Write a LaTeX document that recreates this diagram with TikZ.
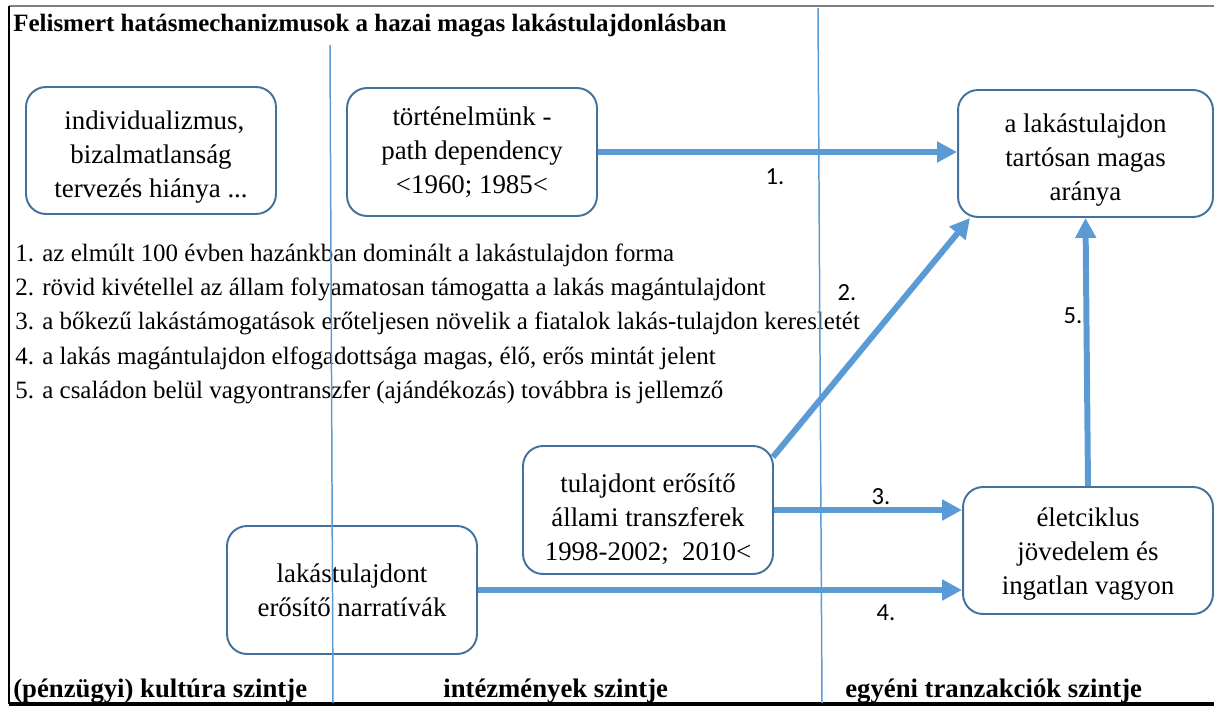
\documentclass[tikz,border=0pt]{standalone}
\usepackage{fontspec}
\setmainfont{Liberation Serif}
\newfontfamily\numfont{Carlito}
\usetikzlibrary{arrows.meta,calc}

\definecolor{boxblue}{HTML}{41719C}
\definecolor{flowblue}{HTML}{5B9BD5}
\definecolor{framegray}{HTML}{7F7F7F}

\def \boxText {\fontsize{15.3}{19.3}\selectfont}
\def \listText {\fontsize{14.2}{16}\selectfont}
\def \headText {\bfseries\fontsize{14.2}{16}\selectfont}
\def \levelText {\bfseries\fontsize{15.2}{17}\selectfont}
% strut that pushes box text a little down
\def \textdrop #1{\rule{0pt}{#1}}

\tikzset{
    box/.style={draw=boxblue, line width=1.1pt, rounded corners=0.4cm,
        align=center, inner sep=0pt, font=\boxText},
    flow/.style={flowblue, line width=3.4pt,
        -{Triangle[length=0.4cm, width=0.4cm]}},
    level/.style={flowblue, line width=0.85pt},
    num/.style={font=\numfont\fontsize{14}{16}\selectfont},
    item/.style={anchor=base west, inner sep=0pt, font=\listText},
    levelname/.style={anchor=base west, inner sep=0pt, font=\levelText},
}

\begin{document}
\begin{tikzpicture}[x=0.02cm, y=-0.02cm]
            \useasboundingbox (0,0) rectangle (1214,707);

            % frame
            \draw[framegray, line width=1.2pt] (9,6) -- (1214,6);
            \draw[line width=0.8pt] (9,6) -- (9,704);
            \draw[line width=1.8pt] (9,704) -- (1214,704);

            \node[anchor=base west, inner sep=0pt, font=\headText] (title) at (13,31)
                {Felismert hatásmechanizmusok a hazai magas lakástulajdonlásban};

            % boxes
            \node[box, minimum width=5cm, minimum height=2.54cm] (culture) at (151,150.5)
                {\textdrop{0.64cm}\ individualizmus,\\bizalmatlanság\\tervezés hiánya ...};
            \node[box, minimum width=5cm, minimum height=2.56cm] (history) at (472,152)
                {történelmünk -\\path dependency\\<1960; 1985<};
            \node[box, minimum width=5.1cm, minimum height=2.54cm] (share) at (1085.5,153.5)
                {\textdrop{0.64cm}a lakástulajdon\\tartósan magas\\aránya};
            \node[box, minimum width=5cm, minimum height=2.56cm] (transfer) at (648,510)
                {\textdrop{0.73cm}tulajdont erősítő\\állami transzferek\\1998-2002;\ \ 2010<};
            \node[box, minimum width=5cm, minimum height=2.56cm] (narrative) at (352,590)
                {lakástulajdont\\erősítő narratívák};
            \node[box, minimum width=5cm, minimum height=2.54cm] (lifecycle) at (1088,550.5)
                {\textdrop{0.53cm}életciklus\\jövedelem és\\ingatlan vagyon};

            % numbered list
            \node[item] (item1) at (15,261) {1. az elmúlt 100 évben hazánkban dominált a lakástulajdon forma};
            \node[item] (item2) at (15,295) {2. rövid kivétellel az állam folyamatosan támogatta a lakás magántulajdont};
            \node[item] (item3) at (15,329) {3. a bőkezű lakástámogatások erőteljesen növelik a fiatalok lakás-tulajdon keresletét};
            \node[item] (item4) at (15,364) {4. a lakás magántulajdon elfogadottsága magas, élő, erős mintát jelent};
            \node[item] (item5) at (15,398) {5. a családon belül vagyontranszfer (ajándékozás) továbbra is jellemző};

            % mechanisms
            \draw[flow] (history.east) -- (history.east -| share.west);
            \draw[flow] ($(transfer.north east)+(-1,12)$) -- ($(share.south west)+(13,0)$);
            \draw[flow] (transfer.east) -- (transfer.east -| lifecycle.west);
            \draw[flow] (narrative.east) -- (narrative.east -| lifecycle.west);
            \draw[flow] (lifecycle.north) -- (share.south);

            \node[num] (n1) at (775,177) {1.};
            \node[num] (n2) at (847,293) {2.};
            \node[num] (n3) at (881,497) {3.};
            \node[num] (n4) at (886,613) {4.};
            \node[num] (n5) at (1073,316) {5.};

            % levels
            \draw[level] (330,45) -- (333,703);
            \draw[level] (818,8) -- (822,703);

            \node[levelname] (lvl1) at (13,697) {(pénzügyi) kultúra szintje};
            \node[levelname] (lvl2) at (443,697) {intézmények szintje};
            \node[levelname] (lvl3) at (845,697) {egyéni tranzakciók szintje};
         \end{tikzpicture}
\end{document}
